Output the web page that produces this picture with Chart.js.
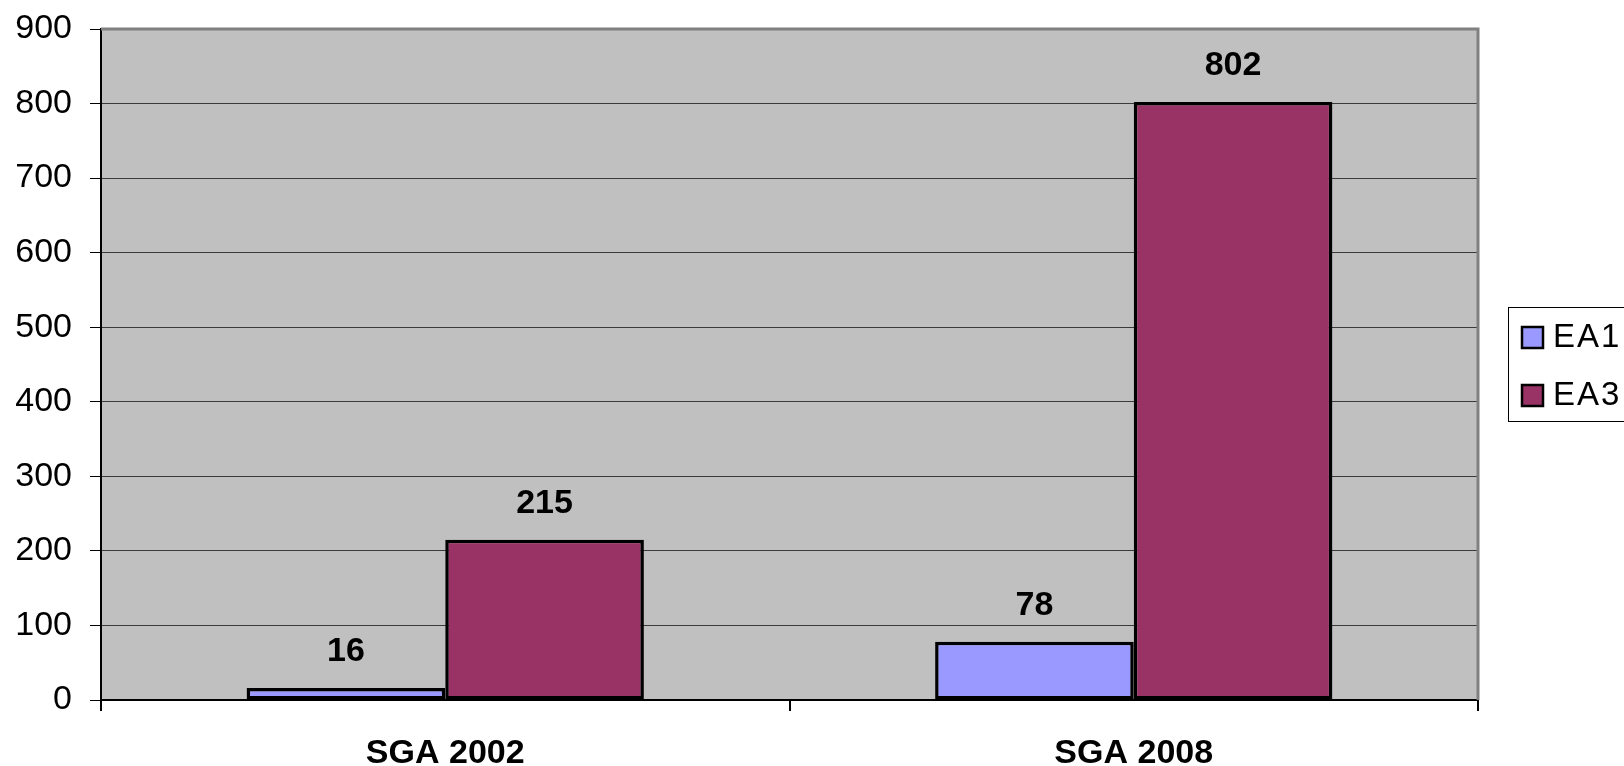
<!DOCTYPE html>
<html>
<head>
<meta charset="utf-8">
<script src="https://cdn.jsdelivr.net/npm/chart.js@4"></script>
<style>
  body { margin: 0; background: #fff; }
  #wrap { width: 1624px; height: 766px; position: relative; }
</style>
</head>
<body>
<div id="wrap"><canvas id="chart"></canvas></div>
<script>
// data
const categories = ["SGA 2002", "SGA 2008"];
const seriesNames = ["EA1", "EA3"];
const ea1Values = [16, 78];
const ea3Values = [215, 802];
const seriesColors = ["#9999ff", "#993366"];
const yMax = 900;
const yStep = 100;

const FONT = "'Liberation Sans', Arial, sans-serif";

// grey plot background + grey top/right frame like the old office chart
const plotFrame = {
    id: "plotFrame",
    beforeDraw(chart) {
        const ctx = chart.ctx, a = chart.chartArea;
        ctx.save();
        ctx.fillStyle = "#c0c0c0";
        ctx.fillRect(a.left, a.top, a.right - a.left, a.bottom - a.top);
        ctx.restore();
    },
    afterDraw(chart) {
        const ctx = chart.ctx, a = chart.chartArea;
        ctx.save();
        ctx.strokeStyle = "#808080";
        ctx.lineWidth = 3;
        ctx.beginPath();
        ctx.moveTo(a.left, a.top);
        ctx.lineTo(a.right, a.top);
        ctx.lineTo(a.right, a.bottom);
        ctx.stroke();
        ctx.restore();
    }
};

// bold value above each bar
const valueLabels = {
    id: "valueLabels",
    afterDatasetsDraw(chart) {
        const ctx = chart.ctx;
        ctx.save();
        ctx.font = "bold 34px " + FONT;
        ctx.fillStyle = "#000";
        ctx.textAlign = "center";
        ctx.textBaseline = "alphabetic";
        chart.data.datasets.forEach(function (ds, i) {
            chart.getDatasetMeta(i).data.forEach(function (bar, j) {
                ctx.fillText(String(ds.data[j]), bar.x, bar.y - 27);
            });
        });
        ctx.restore();
    }
};

// boxed legend on the right, partly cut off by the page edge
const boxLegend = {
    id: "boxLegend",
    afterDraw(chart) {
        const ctx = chart.ctx;
        const x0 = 1508, y0 = 307, h = 114;
        ctx.save();
        ctx.fillStyle = "#fff";
        ctx.fillRect(x0, y0, 200, h);
        ctx.strokeStyle = "#000";
        ctx.lineWidth = 1;
        ctx.strokeRect(x0 + 0.5, y0 + 0.5, 200, h);
        ctx.font = "33px " + FONT;
        ctx.letterSpacing = "2px";
        ctx.textBaseline = "middle";
        ctx.textAlign = "left";
        chart.data.datasets.forEach(function (ds, i) {
            const cy = 337 + i * 58;
            ctx.fillStyle = ds.backgroundColor;
            ctx.fillRect(1522, cy - 10, 21, 21);
            ctx.lineWidth = 2.5;
            ctx.strokeStyle = "#000";
            ctx.strokeRect(1522, cy - 10, 21, 21);
            ctx.fillStyle = "#000";
            ctx.fillText(ds.label, 1553, cy + 1);
        });
        ctx.restore();
    }
};

new Chart("chart", {
    type: "bar",
    data: {
        labels: categories,
        datasets: [{
            label: seriesNames[0],
            data: ea1Values,
            backgroundColor: seriesColors[0],
            borderColor: "#000",
            borderWidth: 3.5,
            borderSkipped: false
        }, {
            label: seriesNames[1],
            data: ea3Values,
            backgroundColor: seriesColors[1],
            borderColor: "#000",
            borderWidth: 3.5,
            borderSkipped: false
        }]
    },
    options: {
        responsive: true,
        maintainAspectRatio: false,
        animation: false,
        layout: { padding: { left: 0, top: 29, right: 146, bottom: 0 } },
        plugins: {
            legend: { display: false },
            tooltip: { enabled: false }
        },
        datasets: {
            bar: { categoryPercentage: 0.577, barPercentage: 1 }
        },
        scales: {
            x: {
                afterFit: function (s) {
                    s.height = 66;
                    s.paddingLeft = 0;
                    s.paddingRight = 0;
                },
                grid: {
                    offset: true,
                    drawOnChartArea: false,
                    tickLength: 11,
                    tickColor: "#000",
                    lineWidth: 2
                },
                border: { color: "#000", width: 2 },
                ticks: {
                    padding: 22,
                    color: "#000",
                    font: { family: FONT, size: 34, weight: "bold" }
                }
            },
            y: {
                min: 0,
                max: yMax,
                afterFit: function (s) {
                    s.width = 101;
                    s.paddingTop = 0;
                    s.paddingBottom = 0;
                },
                grid: {
                    color: "#3a3a3a",
                    lineWidth: 1,
                    tickLength: 11,
                    tickColor: "#000"
                },
                border: { color: "#000", width: 2 },
                ticks: {
                    stepSize: yStep,
                    padding: 18,
                    color: "#000",
                    font: { family: FONT, size: 34 }
                }
            }
        }
    },
    plugins: [plotFrame, valueLabels, boxLegend]
});
</script>
</body>
</html>
